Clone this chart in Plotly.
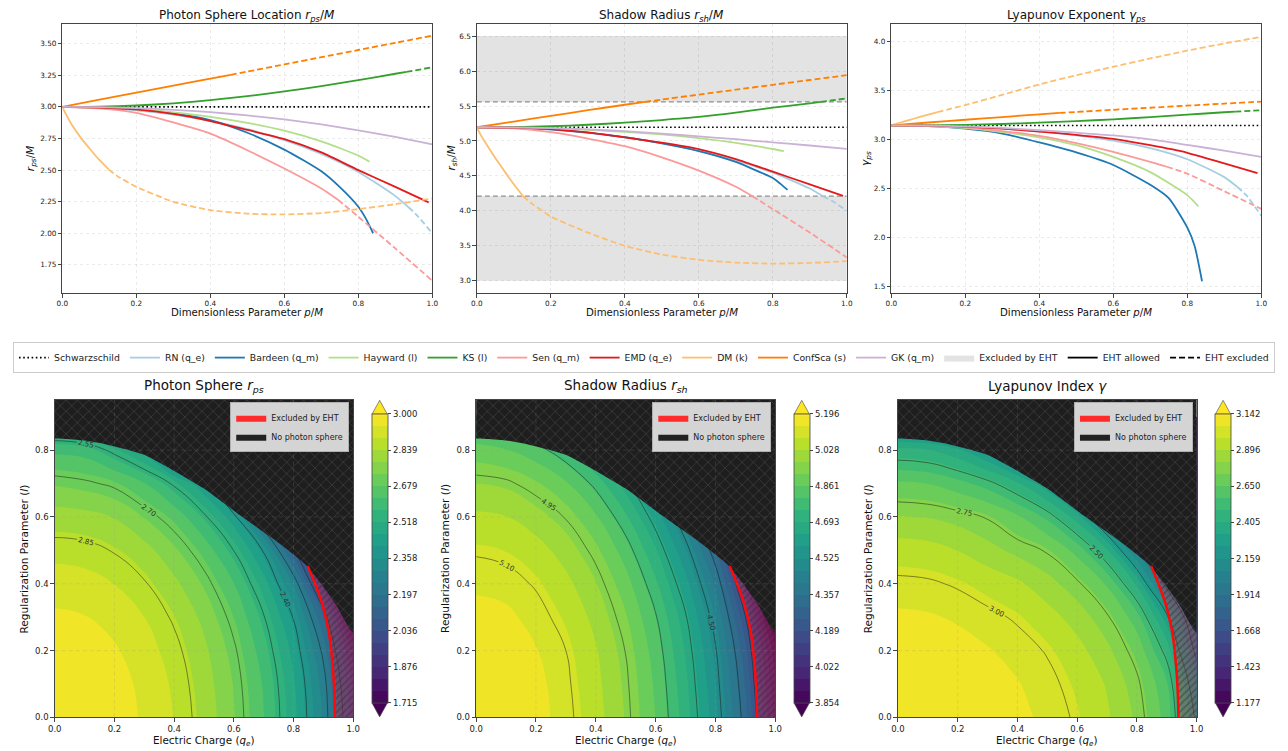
import plotly.graph_objects as go

# ======================= DATA: top row (line panels) =======================
EHT_LO = 4.21          # EHT lower bound on r_sh/M
EHT_HI = 5.56          # EHT upper bound on r_sh/M
EHT_BAND = [3.0, 6.5]  # extent of shaded excluded region

SCHW_P = [0.0, 1.0]
SCHW_RPS = [3.0, 3.0]
SCHW_RSH = [5.196, 5.196]
SCHW_GAM = [3.142, 3.142]

RN_P   = [0.0, 0.1, 0.2, 0.3, 0.4, 0.5, 0.6, 0.7, 0.8, 0.9, 0.935, 0.96, 1.0]
RN_RPS = [3.000, 2.993, 2.973, 2.939, 2.889, 2.823, 2.737, 2.627, 2.485, 2.294, 2.208, 2.138, 2.000]
RN_RSH = [5.196, 5.188, 5.161, 5.117, 5.053, 4.968, 4.859, 4.721, 4.546, 4.319, 4.210, 4.144, 4.000]
RN_GAM = [3.142, 3.138, 3.127, 3.109, 3.081, 3.042, 2.987, 2.910, 2.797, 2.614, 2.516, 2.427, 2.221]

BARDEEN_P   = [0.0, 0.1, 0.2, 0.3, 0.4, 0.5, 0.6, 0.7, 0.75, 0.8, 0.82, 0.84]
BARDEEN_RPS = [3.000, 2.996, 2.980, 2.950, 2.895, 2.795, 2.662, 2.490, 2.365, 2.210, 2.118, 2.000]
BARDEEN_RSH = [5.196, 5.190, 5.166, 5.120, 5.055, 4.965, 4.855, 4.700, 4.590, 4.470, 4.390, 4.300]
BARDEEN_GAM = [3.142, 3.135, 3.109, 3.059, 2.968, 2.866, 2.738, 2.536, 2.400, 2.100, 1.910, 1.550]

HAYWARD_P   = [0.0, 0.1, 0.2, 0.3, 0.4, 0.5, 0.6, 0.7, 0.8, 0.83]
HAYWARD_RPS = [3.000, 2.995, 2.981, 2.956, 2.921, 2.874, 2.812, 2.727, 2.615, 2.565]
HAYWARD_RSH = [5.196, 5.192, 5.182, 5.160, 5.130, 5.093, 5.040, 4.972, 4.885, 4.854]
HAYWARD_GAM = [3.142, 3.135, 3.115, 3.075, 3.020, 2.940, 2.820, 2.665, 2.430, 2.316]

KS_P   = [0.0, 0.1, 0.2, 0.3, 0.4, 0.5, 0.6, 0.7, 0.8, 0.9, 0.93, 1.0]
KS_RPS = [3.000, 3.002, 3.011, 3.028, 3.053, 3.085, 3.122, 3.164, 3.211, 3.262, 3.277, 3.313]
KS_RSH = [5.196, 5.199, 5.210, 5.232, 5.262, 5.299, 5.343, 5.405, 5.476, 5.539, 5.560, 5.608]
KS_GAM = [3.142, 3.143, 3.148, 3.157, 3.170, 3.186, 3.205, 3.227, 3.252, 3.277, 3.283, 3.298]

SEN_P   = [0.0, 0.1, 0.2, 0.3, 0.4, 0.5, 0.6, 0.7, 0.745, 0.8, 0.9, 1.0]
SEN_RPS = [3.000, 2.988, 2.953, 2.877, 2.788, 2.657, 2.512, 2.354, 2.265, 2.130, 1.880, 1.624]
SEN_RSH = [5.196, 5.180, 5.125, 5.035, 4.925, 4.765, 4.575, 4.345, 4.210, 4.025, 3.690, 3.335]
SEN_GAM = [3.142, 3.137, 3.122, 3.085, 3.035, 2.962, 2.873, 2.770, 2.720, 2.650, 2.470, 2.290]

EMD_P   = [0.0, 0.1, 0.2, 0.3, 0.4, 0.5, 0.6, 0.7, 0.8, 0.9, 0.99]
EMD_RPS = [3.000, 2.995, 2.980, 2.945, 2.888, 2.818, 2.745, 2.640, 2.500, 2.367, 2.244]
EMD_RSH = [5.196, 5.190, 5.170, 5.122, 5.050, 4.975, 4.883, 4.740, 4.560, 4.380, 4.215]
EMD_GAM = [3.142, 3.140, 3.130, 3.110, 3.080, 3.045, 3.005, 2.940, 2.863, 2.755, 2.654]

DM_P   = [0.0, 0.01, 0.025, 0.05, 0.075, 0.1, 0.125, 0.15, 0.2, 0.3, 0.4, 0.5, 0.6, 0.7, 0.8, 0.9, 1.0]
DM_RPS = [3.000, 2.940, 2.860, 2.755, 2.665, 2.580, 2.505, 2.450, 2.367, 2.249, 2.183, 2.155, 2.149, 2.160, 2.191, 2.230, 2.276]
DM_RSH = [5.196, 5.090, 4.960, 4.755, 4.565, 4.380, 4.210, 4.100, 3.920, 3.690, 3.500, 3.375, 3.300, 3.260, 3.246, 3.255, 3.280]
DM_GAM = [3.142, 3.155, 3.172, 3.200, 3.226, 3.252, 3.277, 3.302, 3.350, 3.455, 3.560, 3.655, 3.742, 3.826, 3.906, 3.979, 4.047]

CONF_P   = [0.0, 0.1, 0.2, 0.3, 0.4, 0.455, 0.5, 0.6, 0.7, 0.8, 0.9, 1.0]
CONF_RPS = [3.000, 3.057, 3.113, 3.168, 3.223, 3.253, 3.279, 3.336, 3.393, 3.450, 3.507, 3.563]
CONF_RSH = [5.196, 5.278, 5.358, 5.440, 5.518, 5.560, 5.592, 5.663, 5.733, 5.803, 5.872, 5.940]
CONF_GAM = [3.142, 3.172, 3.200, 3.228, 3.256, 3.270, 3.280, 3.302, 3.323, 3.344, 3.365, 3.386]

GK_P   = [0.0, 0.1, 0.2, 0.3, 0.4, 0.5, 0.6, 0.7, 0.8, 0.9, 1.0]
GK_RPS = [3.000, 2.998, 2.990, 2.977, 2.958, 2.932, 2.901, 2.861, 2.814, 2.762, 2.704]
GK_RSH = [5.196, 5.193, 5.183, 5.165, 5.140, 5.105, 5.065, 5.025, 4.980, 4.935, 4.888]
GK_GAM = [3.142, 3.140, 3.133, 3.117, 3.093, 3.068, 3.040, 3.000, 2.943, 2.885, 2.822]

MODEL_NAMES = ["RN (q_e)", "Bardeen (q_m)", "Hayward (l)", "KS (l)", "Sen (q_m)",
               "EMD (q_e)", "DM (k)", "ConfSca (s)", "GK (q_m)"]

# ======================= DATA: bottom row (parameter maps) =======================
Q_GRID = [0.0, 0.1, 0.2, 0.3, 0.4, 0.5, 0.6, 0.7, 0.8, 0.9, 1.0]
L_GRID = [0.0, 0.1, 0.2, 0.3, 0.4, 0.5, 0.6, 0.7, 0.8, 0.9]

RPS_MAP = [
    [3.000, 2.993, 2.973, 2.939, 2.891, 2.823, 2.737, 2.627, 2.485, 2.294, 2.000],
    [2.995, 2.989, 2.968, 2.934, 2.884, 2.815, 2.729, 2.619, 2.475, 2.279, 1.970],
    [2.981, 2.974, 2.953, 2.918, 2.868, 2.799, 2.711, 2.595, 2.446, 2.233, 1.900],
    [2.956, 2.949, 2.928, 2.893, 2.841, 2.771, 2.678, 2.555, 2.396, 2.148, 1.750],
    [2.921, 2.914, 2.892, 2.856, 2.800, 2.726, 2.627, 2.492, 2.299, 1.960, 1.500],
    [2.874, 2.868, 2.846, 2.808, 2.744, 2.662, 2.549, 2.393, 2.107, 1.800, 1.500],
    [2.812, 2.805, 2.783, 2.730, 2.666, 2.565, 2.428, 2.163, 1.900, 1.700, 1.500],
    [2.727, 2.712, 2.687, 2.628, 2.539, 2.414, 2.076, 1.850, 1.700, 1.600, 1.500],
    [2.610, 2.600, 2.530, 2.444, 2.200, 2.000, 1.800, 1.700, 1.600, 1.550, 1.500],
    [2.400, 2.350, 2.250, 2.100, 1.900, 1.800, 1.700, 1.600, 1.550, 1.500, 1.500],
]
RSH_MAP = [
    [5.196, 5.188, 5.161, 5.117, 5.053, 4.968, 4.859, 4.721, 4.546, 4.319, 4.000],
    [5.192, 5.183, 5.157, 5.111, 5.045, 4.961, 4.850, 4.707, 4.530, 4.297, 3.970],
    [5.182, 5.173, 5.143, 5.100, 5.034, 4.948, 4.834, 4.688, 4.508, 4.264, 3.930],
    [5.160, 5.152, 5.122, 5.077, 5.010, 4.922, 4.806, 4.657, 4.466, 4.203, 3.800],
    [5.130, 5.122, 5.094, 5.045, 4.976, 4.885, 4.760, 4.603, 4.402, 4.106, 3.700],
    [5.093, 5.083, 5.054, 5.002, 4.931, 4.832, 4.699, 4.531, 4.307, 4.000, 3.700],
    [5.040, 5.030, 4.995, 4.946, 4.868, 4.759, 4.618, 4.431, 4.150, 3.900, 3.650],
    [4.972, 4.962, 4.924, 4.868, 4.783, 4.665, 4.504, 4.250, 4.050, 3.850, 3.650],
    [4.885, 4.864, 4.825, 4.761, 4.666, 4.528, 4.350, 4.150, 3.950, 3.800, 3.650],
    [4.750, 4.730, 4.680, 4.600, 4.500, 4.350, 4.200, 4.050, 3.900, 3.750, 3.600],
]
GAM_MAP = [
    [3.142, 3.138, 3.127, 3.109, 3.081, 3.042, 2.987, 2.910, 2.797, 2.614, 2.221],
    [3.135, 3.131, 3.115, 3.097, 3.065, 3.025, 2.966, 2.889, 2.770, 2.581, 2.133],
    [3.115, 3.109, 3.090, 3.066, 3.036, 2.993, 2.927, 2.835, 2.711, 2.463, 1.950],
    [3.075, 3.069, 3.051, 3.023, 2.988, 2.932, 2.859, 2.763, 2.603, 2.276, 1.800],
    [3.020, 3.013, 2.990, 2.952, 2.912, 2.846, 2.767, 2.640, 2.391, 1.950, 1.600],
    [2.940, 2.930, 2.895, 2.845, 2.792, 2.741, 2.621, 2.416, 2.060, 1.700, 1.500],
    [2.820, 2.812, 2.785, 2.743, 2.665, 2.550, 2.364, 2.058, 1.750, 1.600, 1.500],
    [2.665, 2.650, 2.600, 2.531, 2.419, 2.258, 1.960, 1.700, 1.600, 1.500, 1.500],
    [2.430, 2.410, 2.340, 2.215, 2.021, 1.800, 1.650, 1.550, 1.500, 1.500, 1.500],
    [2.000, 1.980, 1.900, 1.800, 1.700, 1.600, 1.500, 1.500, 1.500, 1.500, 1.500],
]

# boundary of the region without photon sphere, and EHT exclusion curve
BOUND_Q = [0.0, 0.1, 0.17, 0.25, 0.3, 0.39, 0.5, 0.61, 0.72, 0.78, 0.84, 0.89, 0.945, 1.0]
BOUND_L = [0.835, 0.829, 0.818, 0.800, 0.786, 0.743, 0.685, 0.612, 0.542, 0.502, 0.458, 0.403, 0.334, 0.254]
EHTC_Q = [0.939, 0.937, 0.932, 0.920, 0.909, 0.895, 0.875, 0.848]
EHTC_L = [0.000, 0.070, 0.145, 0.245, 0.295, 0.343, 0.393, 0.453]
Q_RANGE = [0.0, 1.0]
L_RANGE = [0.0, 0.95]

# colour levels / colourbar ticks / line-contour levels
RPS_LEVELS = [1.715, 3.000]
RSH_LEVELS = [3.854, 5.196]
GAM_LEVELS = [1.177, 3.142]
RPS_CB_TICKS = [1.715, 1.876, 2.036, 2.197, 2.358, 2.518, 2.679, 2.839, 3.000]
RSH_CB_TICKS = [3.854, 4.022, 4.189, 4.357, 4.525, 4.693, 4.861, 5.028, 5.196]
GAM_CB_TICKS = [1.177, 1.423, 1.668, 1.914, 2.159, 2.405, 2.650, 2.896, 3.142]
RPS_LINES = [2.10, 2.85, 0.15]
RSH_LINES = [4.20, 5.10, 0.15]
GAM_LINES = [2.00, 3.00, 0.25]

# tick values
P_TICKS = [0.0, 0.2, 0.4, 0.6, 0.8, 1.0]
RPS_TICKS = [1.75, 2.00, 2.25, 2.50, 2.75, 3.00, 3.25, 3.50]
RSH_TICKS = [3.0, 3.5, 4.0, 4.5, 5.0, 5.5, 6.0, 6.5]
GAM_TICKS = [1.5, 2.0, 2.5, 3.0, 3.5, 4.0]
L_TICKS = [0.0, 0.2, 0.4, 0.6, 0.8]

# ======================= STYLE =======================
W, H = 1288, 751
FONT = "DejaVu Sans"
COLORS = ["#a6cee3", "#1f78b4", "#b2df8a", "#33a02c", "#fb9a99",
          "#e31a1c", "#fdbf6f", "#ff7f00", "#cab2d6"]
LW = 1.8
DASH = "6px,3px"
GRAY_FILL = "rgba(128,128,128,0.22)"
PAD = 0.1  # polygons extend beyond the axes (clipped) so their edges stay clean


def fx(px):
    return px / W


def fy(py):
    return 1.0 - py / H


TOP_X = [(56, 430), (475, 849), (894, 1268)]
TOP_Y = (24, 295)
BOT_X = [(48.3, 350), (474.3, 776.7), (900.7, 1202.7)]
BOT_Y = (402.7, 722.3)
CB_X = [369, 795.7, 1221.7]
CB_W = 15.5
CB_Y = (417, 707.7)

fig = go.Figure()

models = [
    (RN_P, RN_RPS, RN_RSH, RN_GAM),
    (BARDEEN_P, BARDEEN_RPS, BARDEEN_RSH, BARDEEN_GAM),
    (HAYWARD_P, HAYWARD_RPS, HAYWARD_RSH, HAYWARD_GAM),
    (KS_P, KS_RPS, KS_RSH, KS_GAM),
    (SEN_P, SEN_RPS, SEN_RSH, SEN_GAM),
    (EMD_P, EMD_RPS, EMD_RSH, EMD_GAM),
    (DM_P, DM_RPS, DM_RSH, DM_GAM),
    (CONF_P, CONF_RPS, CONF_RSH, CONF_GAM),
    (GK_P, GK_RPS, GK_RSH, GK_GAM),
]

top_refs = [("x", "y"), ("x2", "y2"), ("x3", "y3")]

# Schwarzschild reference (drawn first)
for (xa, ya), vals in zip(top_refs, [SCHW_RPS, SCHW_RSH, SCHW_GAM]):
    fig.add_trace(go.Scatter(x=SCHW_P, y=vals, mode="lines", xaxis=xa, yaxis=ya,
                             line=dict(color="black", width=1.6, dash="1.6px,2.6px"),
                             showlegend=False, hoverinfo="skip"))


def add_model_curve(p, vals, rsh, color, xa, ya):
    ok = [EHT_LO - 1e-9 <= v <= EHT_HI + 1e-9 for v in rsh]
    n = len(p)
    solid = [v if ok[i] else None for i, v in enumerate(vals)]
    dashed = [v if (not ok[i] or (i > 0 and not ok[i - 1]) or (i < n - 1 and not ok[i + 1])) else None
              for i, v in enumerate(vals)]
    fig.add_trace(go.Scatter(x=p, y=solid, mode="lines", xaxis=xa, yaxis=ya, connectgaps=False,
                             line=dict(color=color, width=LW, shape="spline", smoothing=0.6),
                             showlegend=False, hoverinfo="skip"))
    if not all(ok):
        fig.add_trace(go.Scatter(x=p, y=dashed, mode="lines", xaxis=xa, yaxis=ya, connectgaps=False,
                                 line=dict(color=color, width=LW, dash=DASH, shape="spline", smoothing=0.6),
                                 showlegend=False, hoverinfo="skip"))


for (p, rps, rsh, gam), color in zip(models, COLORS):
    for (xa, ya), vals in zip(top_refs, [rps, rsh, gam]):
        add_model_curve(p, vals, rsh, color, xa, ya)

# ---- top legend (dummy entries) ----
fig.add_trace(go.Scatter(x=[None], y=[None], mode="lines", name="Schwarzschild",
                         line=dict(color="black", width=1.6, dash="1.6px,2.6px"), legend="legend"))
for name, color in zip(MODEL_NAMES, COLORS):
    fig.add_trace(go.Scatter(x=[None], y=[None], mode="lines", name=name,
                             line=dict(color=color, width=LW), legend="legend"))
fig.add_trace(go.Scatter(x=[None], y=[None], mode="lines", name="Excluded by EHT", fill="toself",
                         fillcolor=GRAY_FILL, line=dict(width=0, color=GRAY_FILL), legend="legend"))
fig.add_trace(go.Scatter(x=[None], y=[None], mode="lines", name="EHT allowed",
                         line=dict(color="black", width=LW), legend="legend"))
fig.add_trace(go.Scatter(x=[None], y=[None], mode="lines", name="EHT excluded",
                         line=dict(color="black", width=LW, dash=DASH), legend="legend"))

# ======================= bottom maps =======================
maps = [
    (RPS_MAP, RPS_LEVELS, RPS_CB_TICKS, RPS_LINES),
    (RSH_MAP, RSH_LEVELS, RSH_CB_TICKS, RSH_LINES),
    (GAM_MAP, GAM_LEVELS, GAM_CB_TICKS, GAM_LINES),
]

tail = [(q, l) for q, l in zip(BOUND_Q, BOUND_L) if q > EHTC_Q[-1]]
hatch_q = EHTC_Q + [q for q, _ in tail] + [Q_RANGE[1] + PAD, Q_RANGE[1] + PAD, EHTC_Q[0]]
hatch_l = EHTC_L + [l for _, l in tail] + [BOUND_L[-1], L_RANGE[0] - PAD, L_RANGE[0] - PAD]
nops_q = [Q_RANGE[0] - PAD] + BOUND_Q + [Q_RANGE[1] + PAD, Q_RANGE[1] + PAD, Q_RANGE[0] - PAD]
nops_l = [BOUND_L[0]] + BOUND_L + [BOUND_L[-1], L_RANGE[1] + PAD, L_RANGE[1] + PAD]

shapes = []
for i, (zmap, lev, cbt, lines) in enumerate(maps):
    xa, ya = f"x{4 + i}", f"y{4 + i}"
    lo, hi = lev
    fig.add_trace(go.Contour(
        x=Q_GRID, y=L_GRID, z=zmap, xaxis=xa, yaxis=ya, colorscale="Viridis",
        zauto=False, zmin=lo, zmax=hi, autocontour=False, showlegend=False,
        contours=dict(start=lo, end=hi, size=(hi - lo) / 24, coloring="fill", showlines=False),
        line=dict(width=0, smoothing=1.3), hoverinfo="skip",
        colorbar=dict(x=fx(CB_X[i]), xanchor="left", xpad=0, y=fy(CB_Y[1]), yanchor="bottom", ypad=0,
                      len=(CB_Y[1] - CB_Y[0]) / H, lenmode="fraction", thickness=CB_W,
                      thicknessmode="pixels", tickvals=cbt, ticktext=[f"{t:.3f}" for t in cbt],
                      ticks="outside", ticklen=3.5, tickcolor="#444",
                      tickfont=dict(size=8.5, color="#222", family=FONT),
                      outlinewidth=0.8, outlinecolor="#444")))
    fig.add_trace(go.Contour(
        x=Q_GRID, y=L_GRID, z=zmap, xaxis=xa, yaxis=ya, showscale=False, autocontour=False,
        showlegend=False,
        contours=dict(start=lines[0], end=lines[1] + 1e-6, size=lines[2], coloring="none",
                      showlabels=True, labelformat=".2f",
                      labelfont=dict(size=7.2, color="#333", family=FONT)),
        line=dict(color="rgba(25,25,25,0.7)", width=0.7, smoothing=1.3), hoverinfo="skip"))
    # EHT-excluded hatched strip
    fig.add_trace(go.Scatter(
        x=hatch_q, y=hatch_l, xaxis=xa, yaxis=ya, mode="lines", fill="toself",
        fillcolor="rgba(230,30,60,0.30)", line=dict(width=0, shape="spline", smoothing=0.5),
        fillpattern=dict(shape="/", fgcolor="rgba(40,40,40,0.85)", bgcolor="rgba(230,30,60,0.30)",
                         size=5, solidity=0.3),
        showlegend=False, hoverinfo="skip"))
    # no photon sphere region
    fig.add_trace(go.Scatter(
        x=nops_q, y=nops_l, xaxis=xa, yaxis=ya, mode="lines", fill="toself",
        fillcolor="#1e1e1e", line=dict(width=0, color="#1e1e1e", shape="spline", smoothing=0.5),
        fillpattern=dict(shape="x", fgcolor="#666666", bgcolor="#1e1e1e", size=8, solidity=0.16),
        showlegend=False, hoverinfo="skip"))
    # EHT boundary curve
    fig.add_trace(go.Scatter(
        x=EHTC_Q, y=EHTC_L, xaxis=xa, yaxis=ya, mode="lines",
        line=dict(color="#ff0a0a", width=2.5, shape="spline"), showlegend=False, hoverinfo="skip"))
    # legend entries inside the panel
    lg = f"legend{2 + i}"
    fig.add_trace(go.Scatter(x=[None], y=[None], xaxis=xa, yaxis=ya, mode="lines", fill="toself",
                             name="Excluded by EHT", fillcolor="#ff2a2a", line=dict(width=0, color="#ff2a2a"),
                             legend=lg))
    fig.add_trace(go.Scatter(x=[None], y=[None], xaxis=xa, yaxis=ya, mode="lines", fill="toself",
                             name="No photon sphere", fillcolor="#222222", line=dict(width=0, color="#222222"),
                             legend=lg))
    # colour-bar extension triangles
    x0, x1 = fx(CB_X[i]), fx(CB_X[i] + CB_W)
    xm = (x0 + x1) / 2
    shapes.append(dict(type="path", xref="paper", yref="paper",
                       path=f"M {x0},{fy(CB_Y[0])} L {xm},{fy(CB_Y[0] - 14)} L {x1},{fy(CB_Y[0])} Z",
                       fillcolor="#fde725", line=dict(color="#444", width=0.6)))
    shapes.append(dict(type="path", xref="paper", yref="paper",
                       path=f"M {x0},{fy(CB_Y[1])} L {xm},{fy(CB_Y[1] + 14)} L {x1},{fy(CB_Y[1])} Z",
                       fillcolor="#440154", line=dict(color="#444", width=0.6)))
    # faint grid drawn over the map
    for t in P_TICKS[1:-1]:
        shapes.append(dict(type="line", xref=xa, yref=ya, x0=t, x1=t, y0=L_RANGE[0], y1=L_RANGE[1],
                           layer="above", line=dict(color="rgba(150,150,150,0.28)", width=0.8, dash="4px,3px")))
    for t in L_TICKS[1:]:
        shapes.append(dict(type="line", xref=xa, yref=ya, x0=Q_RANGE[0], x1=Q_RANGE[1], y0=t, y1=t,
                           layer="above", line=dict(color="rgba(150,150,150,0.28)", width=0.8, dash="4px,3px")))

# EHT shading in shadow panel
shapes.append(dict(type="rect", xref="x2", yref="y2", x0=0, x1=1, y0=EHT_HI, y1=EHT_BAND[1],
                   fillcolor=GRAY_FILL, line=dict(width=0), layer="below"))
shapes.append(dict(type="rect", xref="x2", yref="y2", x0=0, x1=1, y0=EHT_BAND[0], y1=EHT_LO,
                   fillcolor=GRAY_FILL, line=dict(width=0), layer="below"))
for v in (EHT_LO, EHT_HI):
    shapes.append(dict(type="line", xref="x2", yref="y2", x0=0, x1=1, y0=v, y1=v,
                       line=dict(color="rgba(110,110,110,0.75)", width=1.3, dash="5px,3px"), layer="below"))


# ======================= axes =======================
def axis_base(tsize, grid=True):
    return dict(showline=True, linecolor="#444", linewidth=1, mirror=True, ticks="outside",
                ticklen=3.5, tickcolor="#444", tickwidth=0.8,
                tickfont=dict(size=tsize, color="#222", family=FONT),
                showgrid=grid, gridcolor="rgba(0,0,0,0.08)", griddash="3px,3px", gridwidth=0.8,
                zeroline=False)


layout = dict(width=W, height=H, margin=dict(l=0, r=0, t=0, b=0),
              paper_bgcolor="white", plot_bgcolor="white",
              font=dict(family=FONT, color="#222"), hovermode=False)

top_y_ranges = [[1.527, 3.657], [2.825, 6.675], [1.43, 4.18]]
top_y_ticks = [(RPS_TICKS, ".2f"), (RSH_TICKS, ".1f"), (GAM_TICKS, ".1f")]
for i in range(3):
    xk = "xaxis" if i == 0 else f"xaxis{i + 1}"
    yk = "yaxis" if i == 0 else f"yaxis{i + 1}"
    ax = axis_base(7.3)
    ax.update(domain=[fx(TOP_X[i][0]), fx(TOP_X[i][1])], anchor="y" if i == 0 else f"y{i + 1}",
              range=[0, 1], tickvals=P_TICKS, tickformat=".1f")
    ay = axis_base(7.3)
    ay.update(domain=[fy(TOP_Y[1]), fy(TOP_Y[0])], anchor="x" if i == 0 else f"x{i + 1}",
              range=top_y_ranges[i], tickvals=top_y_ticks[i][0], tickformat=top_y_ticks[i][1])
    layout[xk] = ax
    layout[yk] = ay
for i in range(3):
    n = 4 + i
    ax = axis_base(8.5, grid=False)
    ax.update(domain=[fx(BOT_X[i][0]), fx(BOT_X[i][1])], anchor=f"y{n}", range=Q_RANGE,
              tickvals=P_TICKS, tickformat=".1f")
    ay = axis_base(8.5, grid=False)
    ay.update(domain=[fy(BOT_Y[1]), fy(BOT_Y[0])], anchor=f"x{n}", range=L_RANGE,
              tickvals=L_TICKS, tickformat=".1f")
    layout[f"xaxis{n}"] = ax
    layout[f"yaxis{n}"] = ay

layout["legend"] = dict(orientation="h", x=0.5, xanchor="center", y=fy(360), yanchor="middle",
                        font=dict(size=9.3, family=FONT, color="#222"), bgcolor="white",
                        bordercolor="#cccccc", borderwidth=1, itemwidth=30)
leg_right = [346, 772.7, 1199]
for i in range(3):
    layout[f"legend{2 + i}"] = dict(x=fx(leg_right[i]), xanchor="right", y=fy(405), yanchor="top",
                                    font=dict(size=8, family=FONT, color="#222"),
                                    bgcolor="rgba(232,232,232,0.9)", bordercolor="#b0b0b0",
                                    borderwidth=1, itemwidth=30, tracegroupgap=0)

# ======================= annotations =======================
ann = []
top_titles = ["Photon Sphere Location <i>r<sub>ps</sub></i>/<i>M</i>",
              "Shadow Radius <i>r<sub>sh</sub></i>/<i>M</i>",
              "Lyapunov Exponent <i>γ<sub>ps</sub></i>"]
top_ylabels = ["<i>r<sub>ps</sub></i>/<i>M</i>", "<i>r<sub>sh</sub></i>/<i>M</i>", "<i>γ<sub>ps</sub></i>"]
top_ylab_x = [25, 450, 869]
for i in range(3):
    cx = fx((TOP_X[i][0] + TOP_X[i][1]) / 2)
    ann.append(dict(text=top_titles[i], x=cx, y=fy(16), xref="paper", yref="paper",
                    xanchor="center", yanchor="middle", showarrow=False, font=dict(size=12, color="#111")))
    ann.append(dict(text="Dimensionless Parameter <i>p</i>/<i>M</i>", x=cx, y=fy(315), xref="paper",
                    yref="paper", xanchor="center", yanchor="middle", showarrow=False,
                    font=dict(size=10.2, color="#111")))
    ann.append(dict(text=top_ylabels[i], x=fx(top_ylab_x[i]), y=fy((TOP_Y[0] + TOP_Y[1]) / 2),
                    xref="paper", yref="paper", xanchor="center", yanchor="middle", textangle=-90,
                    showarrow=False, font=dict(size=10.5, color="#111")))
bot_titles = ["Photon Sphere <i>r<sub>ps</sub></i>", "Shadow Radius <i>r<sub>sh</sub></i>",
              "Lyapunov Index <i>γ</i>"]
bot_ylab_x = [17, 443, 870]
for i in range(3):
    cx = fx((BOT_X[i][0] + BOT_X[i][1]) / 2)
    ann.append(dict(text=bot_titles[i], x=cx, y=fy(389), xref="paper", yref="paper",
                    xanchor="center", yanchor="middle", showarrow=False, font=dict(size=13.5, color="#111")))
    ann.append(dict(text="Electric Charge (<i>q<sub>e</sub></i>)", x=cx, y=fy(745.5), xref="paper",
                    yref="paper", xanchor="center", yanchor="middle", showarrow=False,
                    font=dict(size=10.4, color="#111")))
    ann.append(dict(text="Regularization Parameter (<i>l</i>)", x=fx(bot_ylab_x[i]),
                    y=fy((BOT_Y[0] + BOT_Y[1]) / 2), xref="paper", yref="paper", xanchor="center",
                    yanchor="middle", textangle=-90, showarrow=False, font=dict(size=10.6, color="#111")))

layout["annotations"] = ann
layout["shapes"] = shapes
fig.update_layout(**layout)

# remove the browser's default page margin so the figure sits at the window origin
fig.write_html("out.html", config={"displayModeBar": False},
               post_script="document.body.style.margin='0px';document.body.style.overflow='hidden';")
